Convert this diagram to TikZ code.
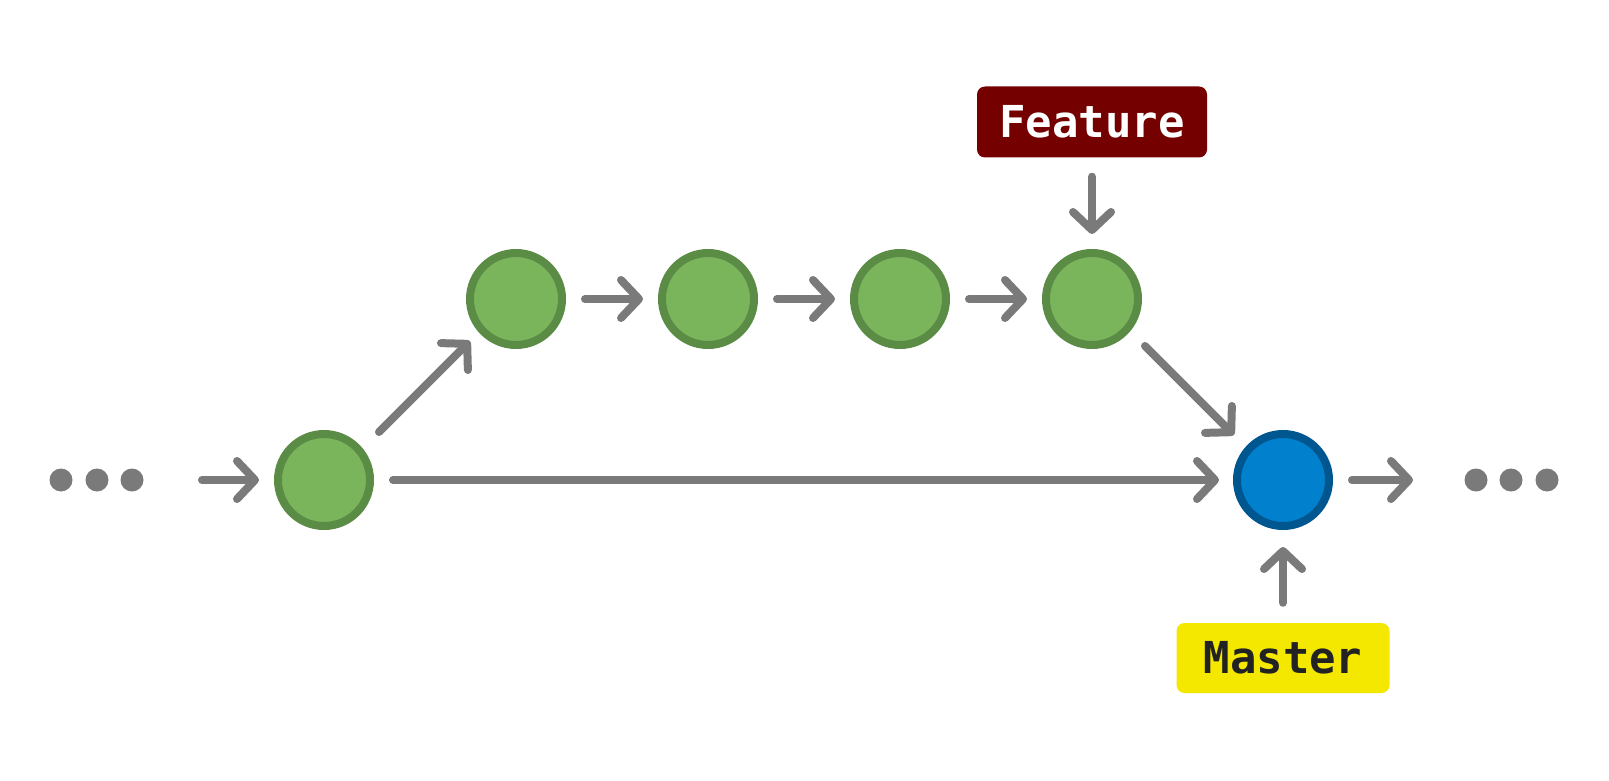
\documentclass[tikz,border=0pt]{standalone}
\usepackage{fontspec}
\newfontfamily\labelfont{DejaVu Sans Mono}
\usetikzlibrary{arrows.meta,calc}
\definecolor{commitfill}{HTML}{7AB55C}
\definecolor{commitline}{HTML}{5B8C45}
\definecolor{headfill}{HTML}{0080CD}
\definecolor{headline}{HTML}{00568F}
\definecolor{linkgray}{HTML}{7A7A7A}
\definecolor{featurebg}{HTML}{750000}
\definecolor{masterbg}{HTML}{F5E800}
\definecolor{mastertext}{HTML}{222222}
\tikzset{
  commit/.style={circle, minimum size=92pt, inner sep=0pt, line width=8pt,
    draw=commitline, fill=commitfill},
  headcommit/.style={commit, draw=headline, fill=headfill},
  link/.style={draw=linkgray, line width=8pt, line cap=round,
    -{Straight Barb[length=18pt, width=38pt, round]}},
  dot/.style={circle, fill=linkgray, minimum size=23pt, inner sep=0pt},
  branch/.style={rounded corners=8pt, inner sep=0pt, font=\labelfont\bfseries\fontsize{44}{44}\selectfont},
}
\begin{document}
\begin{tikzpicture}[x=1pt, y=-1pt]
\useasboundingbox[fill=white] (0,0) rectangle (1609,781);

% commits
\node[commit] (c1) at (324,480) {};
\node[commit] (c2) at (516,299) {};
\node[commit] (c3) at (708,299) {};
\node[commit] (c4) at (900,299) {};
\node[commit] (c5) at (1092,299) {};
\node[headcommit] (m) at (1283,480) {};

% elided history on both sides
\node[dot] (l1) at (61,480) {};
\node[dot] (l2) at (97,480) {};
\node[dot] (l3) at (132,480) {};
\node[dot] (r1) at (1476,480) {};
\node[dot] (r2) at (1511,480) {};
\node[dot] (r3) at (1547,480) {};

% branch labels
\node[branch, fill=featurebg, text=white, minimum width=230pt, minimum height=71pt] (feature) at (1092,122) {Feature};
\node[branch, fill=masterbg, text=mastertext, minimum width=213pt, minimum height=70pt] (master) at (1283,658) {Master};

% free ends of the links
\coordinate (inL) at (202,480);
\coordinate (outR) at (1413,480);
\coordinate (upS) at (379,432);
\coordinate (upE) at (470,341);
\coordinate (dnS) at (1145,346);
\coordinate (dnE) at (1234,435);

% links
\draw[link, shorten >=15pt] (inL) -- (c1);
\draw[link] (upS) -- (upE);
\draw[link, shorten <=19pt, shorten >=15pt] (c2) -- (c3);
\draw[link, shorten <=19pt, shorten >=15pt] (c3) -- (c4);
\draw[link, shorten <=19pt, shorten >=15pt] (c4) -- (c5);
\draw[link, shorten <=19pt, shorten >=15pt] (feature) -- (c5);
\draw[link] (dnS) -- (dnE);
\draw[link, shorten <=19pt, shorten >=14pt] (c1) -- (m);
\draw[link, shorten <=19pt] (m) -- (outR);
\draw[link, shorten <=20pt, shorten >=17pt] (master) -- (m);
\end{tikzpicture}
\end{document}
